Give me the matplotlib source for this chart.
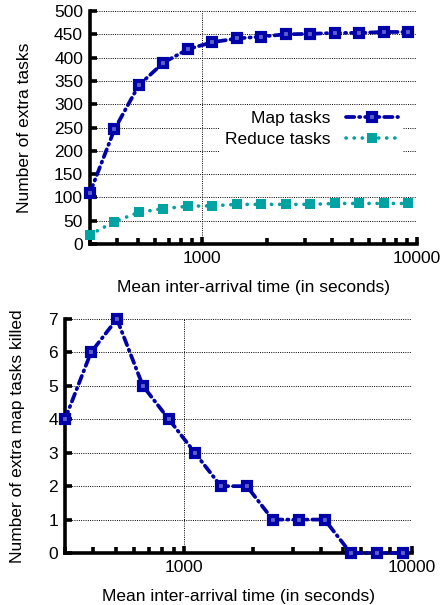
import numpy as np
import matplotlib
matplotlib.use('Agg')
import matplotlib.pyplot as plt
from matplotlib import ticker

plt.rcParams['font.family'] = ['Liberation Sans', 'DejaVu Sans']
plt.rcParams['font.size'] = 12.5

# mean inter-arrival time (s)
arrival = [300, 390, 507, 659, 857, 1114, 1448, 1883, 2447, 3182, 4136, 5377, 6990, 9087]
map_tasks = [110, 246, 341, 389, 418, 433, 441, 445, 450, 451, 453, 453, 455, 455]
reduce_tasks = [20, 48, 68, 76, 81, 82, 85, 85, 85, 85, 87, 87, 87, 87]
map_killed = [4, 6, 7, 5, 4, 3, 2, 2, 1, 1, 1, 0, 0, 0]

blue = '#0000a8'
teal = '#00a2a2'
W, H = 441, 605

fig = plt.figure(figsize=(W / 100, H / 100), dpi=100)
ax1 = fig.add_axes([90 / W, 1 - 244 / H, 327 / W, 233 / H])
ax2 = fig.add_axes([65 / W, 1 - 553 / H, 347 / W, 234 / H])


def style(ax):
    ax.set_xscale('log')
    ax.set_xlim(300, 10000)
    ax.xaxis.set_major_locator(ticker.FixedLocator([1000, 10000]))
    ax.xaxis.set_major_formatter(ticker.FuncFormatter(lambda v, p: '%g' % v))
    ax.xaxis.set_minor_locator(ticker.LogLocator(base=10, subs=np.arange(2, 10)))
    ax.xaxis.set_minor_formatter(ticker.NullFormatter())
    for s in ['top', 'right']:
        ax.spines[s].set_visible(False)
    for s in ['left', 'bottom']:
        ax.spines[s].set_linewidth(2.6)
        ax.spines[s].set_zorder(2)
    ax.tick_params(which='major', direction='in', length=5, width=2.6, pad=5)
    ax.tick_params(which='minor', direction='in', length=4, width=2.6)
    ax.grid(True, which='major', color='black', linestyle=(0, (1, 1.3)), linewidth=0.7)
    ax.set_axisbelow(True)
    ax.set_xlabel('Mean inter-arrival time (in seconds)', labelpad=10)


mapstyle = dict(color=blue, linewidth=2.7, linestyle=(0, (2.2, 1.3, 0.3, 1.3)),
                dash_capstyle='round', marker='s', markersize=5.8, markeredgewidth=3,
                markerfacecolor='#6060cc', markeredgecolor=blue, clip_on=False, zorder=5)

# top: extra tasks
style(ax1)
ax1.plot(arrival, map_tasks, label='Map tasks', **mapstyle)
ax1.plot(arrival, reduce_tasks, label='Reduce tasks', color=teal, linewidth=2.6,
         linestyle=(0, (0.05, 2.2)), dash_capstyle='round', marker='s', markersize=6.8,
         markeredgewidth=0, clip_on=False, zorder=4)
ax1.set_ylim(0, 500)
ax1.yaxis.set_major_locator(ticker.MultipleLocator(50))
ax1.set_ylabel('Number of extra tasks', labelpad=16)
leg = ax1.legend(loc='upper right', bbox_to_anchor=(0.985, 0.63), markerfirst=False,
                 frameon=True, fancybox=False, handlelength=3.0, handletextpad=0.9,
                 labelspacing=0.3, borderpad=0.3, fontsize=12.5)
leg.get_frame().set_edgecolor('none')
leg.get_frame().set_facecolor('white')
leg.get_frame().set_alpha(1)
for t in leg.get_texts():
    t.set_ha('right')
leg._legend_box.align = 'right'

# bottom: map tasks killed
style(ax2)
ax2.plot(arrival, map_killed, **mapstyle)
ax2.set_ylim(0, 7)
ax2.yaxis.set_major_locator(ticker.MultipleLocator(1))
ax2.set_ylabel('Number of extra map tasks killed', labelpad=17)

fig.savefig('out.png', dpi=100)
